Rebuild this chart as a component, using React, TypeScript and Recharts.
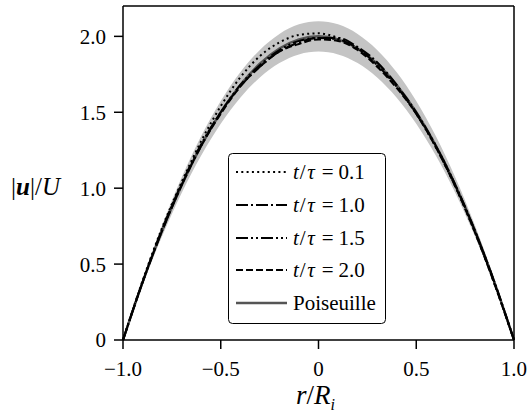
import {
  ComposedChart,
  Line,
  Area,
  XAxis,
  YAxis,
  ReferenceLine,
} from 'recharts'

const radius = [-1, -0.9, -0.8, -0.7, -0.6, -0.5, -0.4, -0.3, -0.2, -0.1, 0, 0.1, 0.2, 0.3, 0.4, 0.5, 0.6, 0.7, 0.8, 0.9, 1]

const poiseuille = [0, 0.38, 0.72, 1.02, 1.28, 1.5, 1.68, 1.82, 1.92, 1.98, 2.0, 1.98, 1.92, 1.82, 1.68, 1.5, 1.28, 1.02, 0.72, 0.38, 0]
const bandLow = [0, 0.361, 0.684, 0.969, 1.216, 1.425, 1.596, 1.729, 1.824, 1.881, 1.9, 1.881, 1.824, 1.729, 1.596, 1.425, 1.216, 0.969, 0.684, 0.361, 0]
const bandHigh = [0, 0.399, 0.756, 1.071, 1.344, 1.575, 1.764, 1.911, 2.016, 2.079, 2.1, 2.079, 2.016, 1.911, 1.764, 1.575, 1.344, 1.071, 0.756, 0.399, 0]

const t01 = [0, 0.39, 0.74, 1.04, 1.31, 1.54, 1.73, 1.87, 1.96, 2.01, 2.02, 1.99, 1.92, 1.81, 1.67, 1.49, 1.27, 1.01, 0.71, 0.37, 0]
const t10 = [0, 0.38, 0.72, 1.02, 1.28, 1.5, 1.67, 1.8, 1.9, 1.96, 1.99, 1.99, 1.93, 1.83, 1.68, 1.5, 1.28, 1.02, 0.72, 0.38, 0]
const t15 = [0, 0.38, 0.73, 1.03, 1.29, 1.5, 1.68, 1.81, 1.91, 1.97, 1.99, 1.98, 1.92, 1.81, 1.67, 1.49, 1.28, 1.02, 0.72, 0.38, 0]
const t20 = [0, 0.38, 0.72, 1.02, 1.28, 1.49, 1.67, 1.8, 1.9, 1.95, 1.98, 1.97, 1.91, 1.8, 1.66, 1.49, 1.27, 1.01, 0.71, 0.37, 0]

const xTicks = [-1, -0.5, 0, 0.5, 1]
const yTicks = [0, 0.5, 1, 1.5, 2]

const legendTimes = ['0.1', '1.0', '1.5', '2.0']

const FONT = "'Liberation Serif'"

const series = [
  { key: 't01', dash: '2 3.3', width: 2 },
  { key: 't10', dash: '12 3 2 3', width: 2 },
  { key: 't15', dash: '12 3 2 3 2 3', width: 2 },
  { key: 't20', dash: '7 3', width: 2 },
]

const data = radius.map((r, i) => ({
  r,
  band: [bandLow[i], bandHigh[i]],
  pois: poiseuille[i],
  t01: t01[i],
  t10: t10[i],
  t15: t15[i],
  t20: t20[i],
}))

const fmt = (v: number) => {
  if (v === 0) return '0'
  const s = Math.abs(v).toFixed(1)
  return v < 0 ? '\u2212' + s : s
}

function LegendBox() {
  const rowY = [19, 52, 85, 117, 150]
  return (
    <div style={{ position: 'absolute', left: 228, top: 153 }}>
      <svg width={158} height={171} style={{ display: 'block' }}>
        <rect x={0.5} y={0.5} width={157} height={170} rx={4} fill="#fff" stroke="#000" strokeWidth={1} />
        {series.map((s, i) => (
          <g key={s.key}>
            <line x1={8} x2={59} y1={rowY[i]} y2={rowY[i]} stroke="#000" strokeWidth={s.width} strokeDasharray={s.dash} />
            <text x={65} y={rowY[i] + 7} fontFamily={FONT} fontSize={21} fill="#000">
              <tspan fontStyle="italic">t</tspan>
              <tspan dx={1}>/</tspan>
              <tspan dx={1.5} fontStyle="italic">τ</tspan>
              <tspan dx={7}>=</tspan>
              <tspan dx={5}>{legendTimes[i]}</tspan>
            </text>
          </g>
        ))}
        <line x1={8} x2={59} y1={rowY[4]} y2={rowY[4]} stroke="#555" strokeWidth={2.5} />
        <text x={65} y={rowY[4] + 7} fontFamily={FONT} fontSize={21} fill="#000">
          Poiseuille
        </text>
      </svg>
    </div>
  )
}

export default function App() {
  return (
    <div style={{ position: 'absolute', left: 0, top: 0, width: 527, height: 415, background: '#fff' }}>
      <ComposedChart width={527} height={415} data={data} margin={{ top: 6, right: 13, left: 0, bottom: 0 }}>
        <XAxis
          dataKey="r"
          type="number"
          domain={[-1, 1]}
          ticks={xTicks}
          tickFormatter={fmt}
          height={75}
          tickSize={9}
          tickMargin={12}
          stroke="#000"
          axisLine={{ stroke: '#000', strokeWidth: 1.5 }}
          tickLine={{ stroke: '#000', strokeWidth: 1.5 }}
          tick={{ fill: '#000', fontSize: 21, fontFamily: FONT }}
        />
        <YAxis
          type="number"
          domain={[0, 2.2]}
          ticks={yTicks}
          tickFormatter={fmt}
          width={123}
          tickSize={9}
          tickMargin={8}
          stroke="#000"
          axisLine={{ stroke: '#000', strokeWidth: 1.5 }}
          tickLine={{ stroke: '#000', strokeWidth: 1.5 }}
          tick={{ fill: '#000', fontSize: 21, fontFamily: FONT }}
        />
        <Area
          dataKey="band"
          type="monotone"
          fill="#c4c4c4"
          fillOpacity={1}
          stroke="none"
          isAnimationActive={false}
          legendType="none"
        />
        <Line dataKey="pois" type="monotone" stroke="#555" strokeWidth={2.5} dot={false} isAnimationActive={false} />
        {series.map((s) => (
          <Line
            key={s.key}
            dataKey={s.key}
            type="monotone"
            stroke="#000"
            strokeWidth={s.width}
            strokeDasharray={s.dash}
            dot={false}
            isAnimationActive={false}
          />
        ))}
        <ReferenceLine y={2.2} stroke="#000" strokeWidth={1.5} />
        <ReferenceLine x={1} stroke="#000" strokeWidth={1.5} />
      </ComposedChart>
      <svg width={527} height={415} style={{ position: 'absolute', left: 0, top: 0, pointerEvents: 'none' }}>
        <text x={11} y={195} fontFamily={FONT} fontSize={25} fill="#000">
          <tspan>|</tspan>
          <tspan fontWeight="bold" fontStyle="italic">u</tspan>
          <tspan>|/</tspan>
          <tspan fontStyle="italic">U</tspan>
        </text>
        <text x={296} y={404} fontFamily={FONT} fontSize={27} fill="#000">
          <tspan fontStyle="italic">r</tspan>
          <tspan>/</tspan>
          <tspan fontStyle="italic">R</tspan>
          <tspan fontStyle="italic" fontSize={16} dy={6}>i</tspan>
        </text>
      </svg>
      <LegendBox />
    </div>
  )
}
